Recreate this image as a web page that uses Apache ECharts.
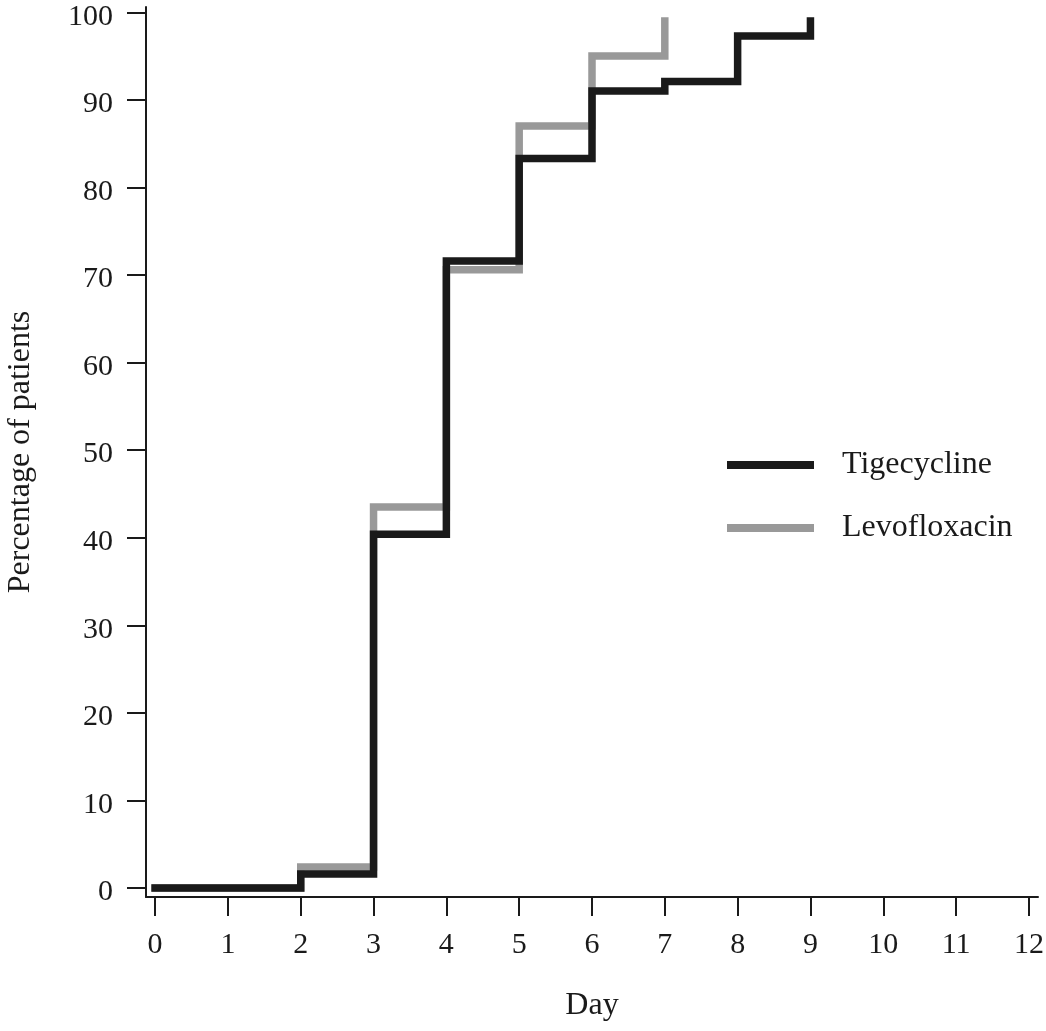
<!DOCTYPE html>
<html>
<head>
<meta charset="utf-8">
<script src="https://cdn.jsdelivr.net/npm/echarts@6/dist/echarts.min.js"></script>
<style>
html,body{margin:0;padding:0;background:#fff;}
#chart{width:1046px;height:1031px;}
</style>
</head>
<body>
<div id="chart"></div>
<script>
// Data
const seriesNames = ['Tigecycline', 'Levofloxacin'];
const tigeDays = [0, 2, 3, 4, 5, 6, 7, 8, 9];
const tigeValues = [0, 1.6, 40.4, 71.6, 83.3, 91.0, 92.1, 97.3, 99.0];
const levoDays = [0, 2, 3, 4, 5, 6, 7];
const levoValues = [0, 2.4, 43.5, 70.6, 87.0, 95.0, 99.0];
const xTicks = [0, 1, 2, 3, 4, 5, 6, 7, 8, 9, 10, 11, 12];
const yTicks = [0, 10, 20, 30, 40, 50, 60, 70, 80, 90, 100];

const FONT = 'Liberation Serif';
const INK = '#1a1a1a';
const GRAY = '#999999';

function pairs(xs, ys) { return xs.map((x, i) => [x, ys[i]]); }

const chart = echarts.init(document.getElementById('chart'), null, {renderer: 'canvas'});
chart.setOption({
  animation: false,
  backgroundColor: '#ffffff',
  grid: {left: 146, right: 8, top: 7, bottom: 134, containLabel: false, outerBoundsMode: 'none'},
  legend: {
    orient: 'vertical',
    left: 722,
    top: 444,
    itemWidth: 87,
    itemHeight: 8,
    itemGap: 31,
    icon: 'rect',
    data: seriesNames,
    textStyle: {fontFamily: FONT, fontSize: 32, color: INK, lineHeight: 32, padding: [0, 0, 0, 23]}
  },
  xAxis: {
    type: 'value',
    min: -0.125,
    max: 12.125,
    name: 'Day',
    nameLocation: 'middle',
    nameGap: 93,
    nameTextStyle: {fontFamily: FONT, fontSize: 32, color: INK, lineHeight: 32},
    axisLine: {show: true, onZero: false, lineStyle: {color: INK, width: 2}},
    axisTick: {show: true, length: 19, customValues: xTicks, lineStyle: {color: INK, width: 2}},
    axisLabel: {customValues: xTicks, margin: 33, fontFamily: FONT, fontSize: 30, color: INK, lineHeight: 30},
    splitLine: {show: false}
  },
  yAxis: {
    type: 'value',
    min: -1.03,
    max: 100.6,
    name: 'Percentage of patients',
    nameLocation: 'middle',
    nameRotate: 90,
    nameGap: 109,
    nameTextStyle: {fontFamily: FONT, fontSize: 32, color: INK, lineHeight: 32},
    axisLine: {show: true, onZero: false, lineStyle: {color: INK, width: 2}},
    axisTick: {show: true, length: 19, customValues: yTicks, lineStyle: {color: INK, width: 2}},
    axisLabel: {customValues: yTicks, margin: 33, fontFamily: FONT, fontSize: 30, color: INK, verticalAlign: 'top', lineHeight: 9},
    splitLine: {show: false}
  },
  series: [
    {
      name: 'Levofloxacin',
      type: 'line',
      step: 'end',
      data: pairs(levoDays, levoValues),
      showSymbol: false,
      symbol: 'none',
      color: GRAY,
      lineStyle: {color: GRAY, width: 7.5, cap: 'square', join: 'miter'},
      z: 2
    },
    {
      name: 'Tigecycline',
      type: 'line',
      step: 'end',
      data: pairs(tigeDays, tigeValues),
      showSymbol: false,
      symbol: 'none',
      color: INK,
      lineStyle: {color: INK, width: 7.5, cap: 'square', join: 'miter'},
      z: 3
    }
  ]
});
</script>
</body>
</html>
